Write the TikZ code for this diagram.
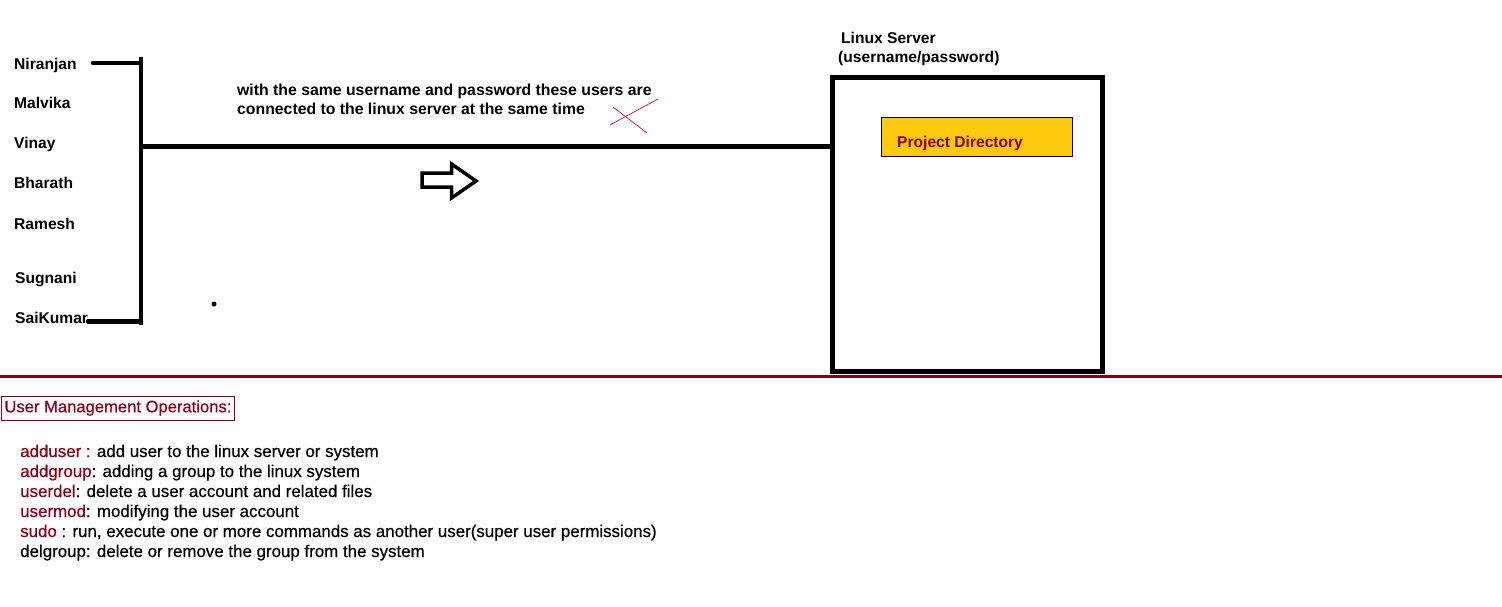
\documentclass[tikz,border=0pt]{standalone}
\usepackage{fontspec}
\setmainfont{Liberation Sans}
\newfontfamily\opsfont[FakeBold=0.5]{Liberation Sans}
\definecolor{dred}{RGB}{136,0,21}
\definecolor{pyellow}{RGB}{255,201,14}
\definecolor{xred}{RGB}{200,40,70}
\begin{document}
\begin{tikzpicture}[x=1pt,y=-1pt,
  bold/.style={anchor=base west, inner sep=0pt, font=\fontsize{15.6}{19}\selectfont\bfseries},
  desc/.style={anchor=base west, inner sep=0pt, font=\fontsize{15.8}{19}\selectfont\bfseries},
  plain/.style={anchor=base west, inner sep=0pt, font=\opsfont\fontsize{16.9}{20}\selectfont},
  heavy/.style={line width=4.5pt},
  roundend/.style={line width=4.5pt, line cap=round},
  serverbox/.style={draw, line width=5pt, minimum width=270pt, minimum height=294pt, inner sep=0pt},
  projbox/.style={draw, line width=0.8pt, fill=pyellow, minimum width=191pt, minimum height=39pt, inner sep=0pt},
  opsbox/.style={draw=dred, line width=0.9pt, anchor=west, text=dred, minimum height=24pt, inner xsep=3.5pt, inner ysep=0pt, font=\opsfont\fontsize{16.6}{20}\selectfont}
]
\useasboundingbox (0,0) rectangle (1502,607);

% user names
\node[bold] (n1) at (14,69.5) {Niranjan};
\node[bold] (n2) at (14,109) {Malvika};
\node[bold] (n3) at (14,149) {Vinay};
\node[bold] (n4) at (14,189) {Bharath};
\node[bold] (n5) at (14,229) {Ramesh};
\node[bold] (n6) at (15,283) {Sugnani};
\node[bold] (n7) at (15,323) {SaiKumar};

% bracket
\coordinate (bt) at (141,57);
\coordinate (bb) at (141,325);
\coordinate (bj) at (141,146.5);
\coordinate (t1) at (93,63);
\coordinate (t7) at (88,321.5);
\draw[heavy] (bt) -- (bb);
\draw[roundend] (t1) -- (t1 -| bt);
\draw[roundend] (t7) -- (t7 -| bb);

% server
\node[serverbox] (server) at (967.5,224.75) {};
\node[bold] (srv1) at (841,43.5) {Linux Server};
\node[bold] (srv2) at (838,62.5) {(username/password)};
\node[projbox] (proj) at (976.5,136.5) {};
\node[bold, text=dred] (projt) at (897,147.5) {Project Directory};

% main connector
\draw[heavy] (bj) -- ([xshift=4pt]bj -| server.west);

% description
\node[desc] (d1) at (237,96) {with the same username and password these users are};
\node[desc] (d2) at (237,115) {connected to the linux server at the same time};

% red cross
\coordinate (xa) at (610,125);
\coordinate (xb) at (658,99);
\coordinate (xc) at (613,107);
\coordinate (xd) at (647,133);
\draw[xred, line width=0.8pt] (xa) -- (xb);
\draw[xred, line width=0.8pt] (xc) -- (xd);

% hollow arrow
\draw[line width=3.5pt, line join=miter] (422,173) -- (451.5,173) -- (451.5,164) -- (476,181) -- (451.5,198) -- (451.5,187) -- (422,187) -- cycle;

% dot
\fill (214,304) circle (2.5pt);

% separator
\coordinate (sl) at (0,376);
\coordinate (sr) at (1502,376);
\draw[dred, line width=3pt] (sl) -- (sr);

% operations
\node[opsbox] (ops) at (0.5,408) {User Management Operations:};
\node[plain] (o1) at (20,457) {\textcolor{dred}{adduser :} add user to the linux server or system};
\node[plain] (o2) at (20,477) {\textcolor{dred}{addgroup}: adding a group to the linux system};
\node[plain] (o3) at (20,497) {\textcolor{dred}{userdel}: delete a user account and related files};
\node[plain] (o4) at (20,517) {\textcolor{dred}{usermod}: modifying the user account};
\node[plain] (o5) at (20,537) {\textcolor{dred}{sudo} : run, execute one or more commands as another user(super user permissions)};
\node[plain] (o6) at (20,557) {delgroup: delete or remove the group from the system};
\end{tikzpicture}
\end{document}
